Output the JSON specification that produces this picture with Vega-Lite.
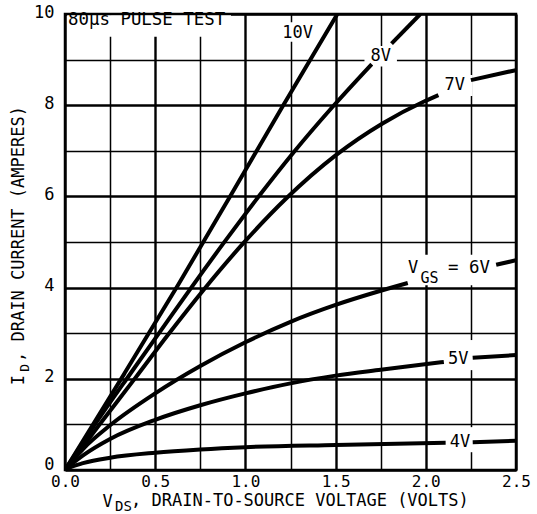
{
  "$schema": "https://vega.github.io/schema/vega-lite/v6.json",
  "width": 451,
  "height": 456,
  "autosize": {"type": "none"},
  "padding": {"left": 65, "top": 14, "right": 21, "bottom": 44},
  "background": "white",
  "config": {
    "view": {"stroke": "black", "strokeWidth": 2.5},
    "axis": {
      "grid": true,
      "gridColor": "black",
      "gridOpacity": 1,
      "domain": false,
      "ticks": false,
      "labelFont": "DejaVu Sans Mono",
      "labelFontSize": 17,
      "labelColor": "black",
      "labelOverlap": false
    },
    "text": {"font": "DejaVu Sans Mono", "color": "black"}
  },
  "encoding": {
    "x": {
      "field": "x",
      "type": "quantitative",
      "title": null,
      "scale": {"domain": [0, 2.5], "nice": false, "zero": false},
      "axis": {
        "values": [0, 0.25, 0.5, 0.75, 1, 1.25, 1.5, 1.75, 2, 2.25, 2.5],
        "labelExpr": "abs(datum.value*2 - round(datum.value*2)) < 0.001 ? format(datum.value, '.1f') : ''",
        "gridWidth": {"condition": {"test": "abs(datum.value*2 - round(datum.value*2)) < 0.001", "value": 2.4}, "value": 1.5},
        "labelFlush": false,
        "labelFontSize": 16,
        "labelPadding": 3
      }
    },
    "y": {
      "field": "y",
      "type": "quantitative",
      "title": null,
      "scale": {"domain": [0, 10], "nice": false, "zero": false},
      "axis": {
        "values": [0, 1, 2, 3, 4, 5, 6, 7, 8, 9, 10],
        "labelExpr": "datum.value % 2 === 0 ? datum.label : ''",
        "gridWidth": {"condition": {"test": "datum.value % 2 === 0", "value": 2.4}, "value": 1.5},
        "labelPadding": 11,
        "labelOffset": {"condition": {"test": "datum.value === 0", "value": -6}, "value": -2}
      }
    }
  },
  "layer": [
    {
      "data": {"values": [
        {"x": 0.012, "x2": 0.92, "y": 9.5, "y2": 9.97},
        {"x": 1.19, "x2": 1.4, "y": 9.39, "y2": 9.82},
        {"x": 1.66, "x2": 1.84, "y": 8.85, "y2": 9.3},
        {"x": 2.07, "x2": 2.26, "y": 8.2, "y2": 8.66},
        {"x": 1.88, "x2": 2.4, "y": 4.05, "y2": 4.72},
        {"x": 2.1, "x2": 2.27, "y": 2.19, "y2": 2.85},
        {"x": 2.11, "x2": 2.27, "y": 0.39, "y2": 0.94}
      ]},
      "mark": {"type": "rect", "fill": "white", "stroke": null},
      "encoding": {"x2": {"field": "x2"}, "y2": {"field": "y2"}}
    },
    {
      "data": {"values": [
        {"seg": "10a", "x": 0, "y": 0}, {"seg": "10a", "x": 0.33, "y": 2.12}, {"seg": "10a", "x": 0.63, "y": 4.08},
        {"seg": "10a", "x": 0.915, "y": 6}, {"seg": "10a", "x": 1.21, "y": 8}, {"seg": "10a", "x": 1.51, "y": 10},

        {"seg": "8a", "x": 0, "y": 0}, {"seg": "8a", "x": 0.18, "y": 1.08}, {"seg": "8a", "x": 0.36, "y": 2.1},
        {"seg": "8a", "x": 0.53, "y": 3.05}, {"seg": "8a", "x": 0.7, "y": 4.0}, {"seg": "8a", "x": 0.88, "y": 4.98},
        {"seg": "8a", "x": 1.07, "y": 5.98}, {"seg": "8a", "x": 1.27, "y": 6.98}, {"seg": "8a", "x": 1.48, "y": 7.95},
        {"seg": "8a", "x": 1.7, "y": 8.9},
        {"seg": "8b", "x": 1.81, "y": 9.35}, {"seg": "8b", "x": 1.97, "y": 10},

        {"seg": "7a", "x": 0, "y": 0}, {"seg": "7a", "x": 0.2, "y": 1.04}, {"seg": "7a", "x": 0.39, "y": 2.02},
        {"seg": "7a", "x": 0.57, "y": 2.96}, {"seg": "7a", "x": 0.77, "y": 3.96}, {"seg": "7a", "x": 0.99, "y": 4.98},
        {"seg": "7a", "x": 1.23, "y": 5.97}, {"seg": "7a", "x": 1.5, "y": 6.9}, {"seg": "7a", "x": 1.76, "y": 7.6},
        {"seg": "7a", "x": 1.99, "y": 8.08}, {"seg": "7a", "x": 2.07, "y": 8.22},
        {"seg": "7b", "x": 2.25, "y": 8.55}, {"seg": "7b", "x": 2.5, "y": 8.77},

        {"seg": "6a", "x": 0, "y": 0}, {"seg": "6a", "x": 0.05, "y": 0.24}, {"seg": "6a", "x": 0.1, "y": 0.46},
        {"seg": "6a", "x": 0.25, "y": 0.98}, {"seg": "6a", "x": 0.5, "y": 1.68}, {"seg": "6a", "x": 0.75, "y": 2.28},
        {"seg": "6a", "x": 1.0, "y": 2.8}, {"seg": "6a", "x": 1.25, "y": 3.25}, {"seg": "6a", "x": 1.5, "y": 3.62},
        {"seg": "6a", "x": 1.75, "y": 3.93}, {"seg": "6a", "x": 1.9, "y": 4.1},
        {"seg": "6b", "x": 2.39, "y": 4.5}, {"seg": "6b", "x": 2.5, "y": 4.6},

        {"seg": "5a", "x": 0, "y": 0}, {"seg": "5a", "x": 0.05, "y": 0.17}, {"seg": "5a", "x": 0.1, "y": 0.32},
        {"seg": "5a", "x": 0.25, "y": 0.68}, {"seg": "5a", "x": 0.5, "y": 1.1}, {"seg": "5a", "x": 0.75, "y": 1.42},
        {"seg": "5a", "x": 1.0, "y": 1.68}, {"seg": "5a", "x": 1.25, "y": 1.9}, {"seg": "5a", "x": 1.5, "y": 2.07},
        {"seg": "5a", "x": 1.75, "y": 2.2}, {"seg": "5a", "x": 2.1, "y": 2.37},
        {"seg": "5b", "x": 2.26, "y": 2.46}, {"seg": "5b", "x": 2.5, "y": 2.52},

        {"seg": "4a", "x": 0, "y": 0}, {"seg": "4a", "x": 0.03, "y": 0.06}, {"seg": "4a", "x": 0.1, "y": 0.15},
        {"seg": "4a", "x": 0.25, "y": 0.27}, {"seg": "4a", "x": 0.5, "y": 0.38}, {"seg": "4a", "x": 0.75, "y": 0.45},
        {"seg": "4a", "x": 1.0, "y": 0.5}, {"seg": "4a", "x": 1.5, "y": 0.55}, {"seg": "4a", "x": 2.11, "y": 0.6},
        {"seg": "4b", "x": 2.26, "y": 0.61}, {"seg": "4b", "x": 2.5, "y": 0.64}
      ]},
      "mark": {"type": "line", "color": "black", "strokeWidth": 4, "interpolate": "monotone", "clip": true},
      "encoding": {"detail": {"field": "seg"}}
    },
    {
      "data": {"values": [
        {"x": 1.29, "y": 9.58, "text": "10V"},
        {"x": 1.75, "y": 9.08, "text": "8V"},
        {"x": 2.16, "y": 8.44, "text": "7V"},
        {"x": 2.18, "y": 2.43, "text": "5V"},
        {"x": 2.19, "y": 0.61, "text": "4V"},
        {"x": 1.93, "y": 4.42, "text": "V"},
        {"x": 0.236, "y": -0.7, "text": "V"}
      ]},
      "mark": {"type": "text", "fontSize": 17, "align": "center", "baseline": "middle"},
      "encoding": {"text": {"field": "text"}}
    },
    {
      "data": {"values": [
        {"x": 2.123, "y": 4.42, "text": "= 6V"},
        {"x": 0.017, "y": 9.86, "text": "80μs PULSE TEST"}
      ]},
      "mark": {"type": "text", "fontSize": 17.4, "align": "left", "baseline": "middle"},
      "encoding": {"text": {"field": "text"}}
    },
    {
      "data": {"values": [
        {"x": 0.366, "y": -0.69, "text": ", DRAIN-TO-SOURCE VOLTAGE  (VOLTS)"}
      ]},
      "mark": {"type": "text", "fontSize": 17, "align": "left", "baseline": "middle"},
      "encoding": {"text": {"field": "text"}}
    },
    {
      "data": {"values": [
        {"x": 2.02, "y": 4.2, "text": "GS"}
      ]},
      "mark": {"type": "text", "fontSize": 15, "align": "center", "baseline": "middle"},
      "encoding": {"text": {"field": "text"}}
    },
    {
      "data": {"values": [
        {"x": 0.324, "y": -0.81, "text": "DS"}
      ]},
      "mark": {"type": "text", "fontSize": 14, "align": "center", "baseline": "middle"},
      "encoding": {"text": {"field": "text"}}
    },
    {
      "data": {"values": [{"x": -0.255, "y": 1.97, "text": "I"}]},
      "mark": {"type": "text", "fontSize": 17, "align": "center", "baseline": "middle", "angle": 270},
      "encoding": {"text": {"field": "text"}}
    },
    {
      "data": {"values": [{"x": -0.219, "y": 2.24, "text": "D"}]},
      "mark": {"type": "text", "fontSize": 13, "align": "center", "baseline": "middle", "angle": 270},
      "encoding": {"text": {"field": "text"}}
    },
    {
      "data": {"values": [{"x": -0.255, "y": 2.37, "text": ", DRAIN CURRENT (AMPERES)"}]},
      "mark": {"type": "text", "fontSize": 17, "align": "left", "baseline": "middle", "angle": 270},
      "encoding": {"text": {"field": "text"}}
    }
  ]
}
